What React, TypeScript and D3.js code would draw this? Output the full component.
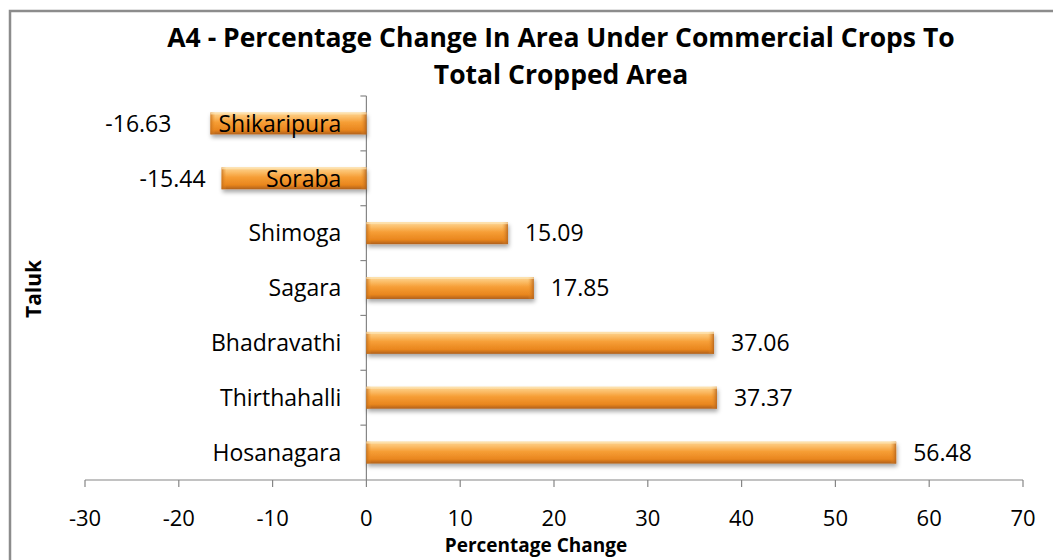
import React from "react";
import * as d3 from "d3";

// chart data (top to bottom as drawn)
const taluks = [
	"Shikaripura",
	"Soraba",
	"Shimoga",
	"Sagara",
	"Bhadravathi",
	"Thirthahalli",
	"Hosanagara",
];
const pctChange = [-16.63, -15.44, 15.09, 17.85, 37.06, 37.37, 56.48];
const xTicks = [-30, -20, -10, 0, 10, 20, 30, 40, 50, 60, 70];
const titleLines = [
	"A4 - Percentage Change In Area Under Commercial Crops To",
	"Total Cropped Area",
];

// label gaps as placed in the original sheet
const labelGap = [39, 16, 17, 17, 17, 17, 17];

const font = "'Open Sans', 'Noto Sans', sans-serif";
const axisColor = "#868686";

const App = () => {
	const x = d3.scaleLinear().domain([-30, 70]).range([85, 1023]);
	const y = d3.scaleBand().domain(taluks).range([96, 480]).paddingInner(0.6).paddingOuter(0.3);
	const band = d3.scaleBand().domain(taluks).range([96, 480]);
	const bh = y.bandwidth();

	return (
		<svg
			width={1053}
			height={560}
			style={{ position: "absolute", left: 0, top: 0, background: "#fff" }}
			fontFamily={font}
		>
			<defs>
				<linearGradient id="barFill" x1="0" y1="0" x2="0" y2="1">
					<stop offset="0" stopColor="#fbd393" />
					<stop offset="0.18" stopColor="#fcc270" />
					<stop offset="0.45" stopColor="#f69e36" />
					<stop offset="0.8" stopColor="#e9861e" />
					<stop offset="1" stopColor="#b0601a" />
				</linearGradient>
				<linearGradient id="capL" x1="0" y1="0" x2="1" y2="0">
					<stop offset="0" stopColor="#c06a17" stopOpacity="0.8" />
					<stop offset="1" stopColor="#f19429" stopOpacity="0" />
				</linearGradient>
				<linearGradient id="capR" x1="1" y1="0" x2="0" y2="0">
					<stop offset="0" stopColor="#b3611a" stopOpacity="0.85" />
					<stop offset="1" stopColor="#f19429" stopOpacity="0" />
				</linearGradient>
				<filter id="shadow" x="-5%" y="-50%" width="110%" height="220%">
					<feDropShadow dx="1" dy="3" stdDeviation="2" floodColor="#000" floodOpacity="0.35" />
				</filter>
			</defs>

			{/* chart border */}
			<rect x={10} y={11} width={1100} height={600} fill="#fff" stroke="#8c8c8c" strokeWidth={2.5} />

			{/* title */}
			{titleLines.map((t, i) => (
				<text
					key={t}
					x={561}
					y={47 + i * 37}
					textAnchor="middle"
					fontSize={26.5}
					fontWeight="bold"
					fill="#000"
				>
					{t}
				</text>
			))}

			{/* x axis */}
			<line x1={x(-30)} x2={x(70)} y1={480} y2={480} stroke={axisColor} strokeWidth={1.2} />
			{xTicks.map((t) => (
				<g key={t}>
					<line x1={x(t)} x2={x(t)} y1={480} y2={487} stroke={axisColor} strokeWidth={1.2} />
					<text x={x(t)} y={526} textAnchor="middle" fontSize={22} fill="#000">
						{t}
					</text>
				</g>
			))}
			<text x={536} y={552} textAnchor="middle" fontSize={19} fontWeight="bold">
				Percentage Change
			</text>

			{/* y axis */}
			<line x1={x(0)} x2={x(0)} y1={96} y2={480} stroke={axisColor} strokeWidth={1.2} />
			{taluks.map((t) => (
				<line
					key={t}
					x1={x(0) - 6}
					x2={x(0)}
					y1={band(t)!}
					y2={band(t)!}
					stroke={axisColor}
					strokeWidth={1.2}
				/>
			))}
			<text
				transform="translate(41,289) rotate(-90)"
				textAnchor="middle"
				fontSize={21}
				fontWeight="bold"
			>
				Taluk
			</text>

			{/* bars */}
			{taluks.map((t, i) => {
				const v = pctChange[i];
				const x0 = Math.min(x(0), x(v));
				const w = Math.abs(x(v) - x(0));
				const yy = y(t)!;
				return (
					<g key={t}>
						<g filter="url(#shadow)">
							<rect x={x0} y={yy} width={w} height={bh} fill="url(#barFill)" />
						</g>
						<rect x={x0} y={yy} width={5} height={bh} fill="url(#capL)" />
						<rect x={x0 + w - 6} y={yy} width={6} height={bh} fill="url(#capR)" />
						<rect x={x0} y={yy} width={w} height={2} fill="#fde7b8" opacity={0.7} />
					</g>
				);
			})}

			{/* category labels */}
			{taluks.map((t) => (
				<text
					key={t}
					x={x(0) - 25}
					y={y(t)! + bh / 2}
					dy="0.36em"
					textAnchor="end"
					fontSize={23}
					fill="#000"
				>
					{t}
				</text>
			))}

			{/* value labels */}
			{taluks.map((t, i) => {
				const v = pctChange[i];
				const neg = v < 0;
				return (
					<text
						key={t}
						x={neg ? x(v) - labelGap[i] : x(v) + labelGap[i]}
						y={y(t)! + bh / 2}
						dy="0.36em"
						textAnchor={neg ? "end" : "start"}
						fontSize={23}
						fill="#000"
					>
						{v.toFixed(2)}
					</text>
				);
			})}
		</svg>
	);
};

export default App;
